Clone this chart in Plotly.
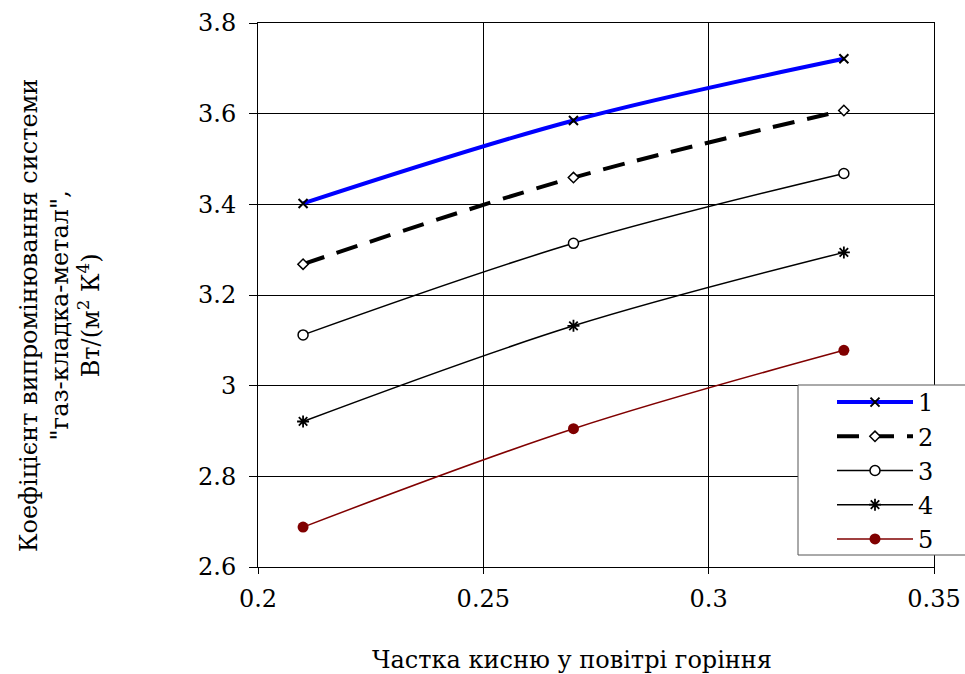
import plotly.graph_objects as go

x_vals = [0.21, 0.27, 0.33]
s1 = [3.402, 3.585, 3.721]
s2 = [3.268, 3.459, 3.607]
s3 = [3.112, 3.314, 3.468]
s4 = [2.921, 3.132, 3.294]
s5 = [2.688, 2.905, 3.078]
names = ["1", "2", "3", "4", "5"]

FONT = "DejaVu Serif"
L, R, T, B = 258, 934, 23, 567
W, H = 965, 674
PW, PH = R - L, B - T

def px(xp):
    return (xp - L) / PW

def py(yp):
    return (B - yp) / PH

fig = go.Figure()

fig.add_trace(go.Scatter(x=x_vals, y=s1, name=names[0], mode="lines+markers",
    line=dict(color="#0000ff", width=4, shape="spline"),
    marker=dict(symbol="x-thin", size=9, color="black", line=dict(width=2, color="black"))))
fig.add_trace(go.Scatter(x=x_vals, y=s2, name=names[1], mode="lines+markers",
    line=dict(color="black", width=4, dash="22px,13px", shape="spline"),
    marker=dict(symbol="diamond", size=8, color="white", line=dict(width=1.5, color="black"))))
fig.add_trace(go.Scatter(x=x_vals, y=s3, name=names[2], mode="lines+markers",
    line=dict(color="black", width=1.5, shape="spline"),
    marker=dict(symbol="circle", size=10, color="white", line=dict(width=1.5, color="black"))))
fig.add_trace(go.Scatter(x=x_vals, y=s4, name=names[3], mode="lines+markers",
    line=dict(color="black", width=1.5, shape="spline"),
    marker=dict(symbol="asterisk", size=10, color="black", line=dict(width=1.8, color="black"))))
fig.add_trace(go.Scatter(x=x_vals, y=s5, name=names[4], mode="lines+markers",
    line=dict(color="#800000", width=1.5, shape="spline"),
    marker=dict(symbol="circle", size=11, color="#800000", line=dict(width=0))))

fig.update_layout(
    width=W, height=H,
    margin=dict(l=L, r=W - R, t=T, b=H - B, autoexpand=False),
    paper_bgcolor="white", plot_bgcolor="white",
    font=dict(family=FONT, size=24, color="black"),
    showlegend=True,
    legend=dict(x=px(832), y=py(380), xanchor="left", yanchor="top",
                bgcolor="rgba(0,0,0,0)", borderwidth=0,
                font=dict(family=FONT, size=24), tracegroupgap=0,
                itemwidth=76),
    shapes=[dict(type="rect", xref="paper", yref="paper",
                 x0=px(798), x1=px(980), y0=py(555), y1=py(385),
                 fillcolor="white", line=dict(color="#555", width=1), layer="above")],
    xaxis=dict(range=[0.2, 0.35], dtick=0.05, tick0=0.2, showgrid=True,
               gridcolor="black", gridwidth=1, showline=True, linecolor="black",
               linewidth=1, mirror=True, ticks="outside", ticklen=6,
               tickcolor="black", zeroline=False, automargin=False,
               ticklabelstandoff=4,
               tickfont=dict(family=FONT, size=24)),
    yaxis=dict(range=[2.6, 3.8], dtick=0.2, tick0=2.6, showgrid=True,
               gridcolor="black", gridwidth=1, showline=True, linecolor="black",
               linewidth=1, mirror=True, ticks="outside", ticklen=8,
               tickcolor="black", zeroline=False, automargin=False,
               ticklabelstandoff=8,
               tickfont=dict(family=FONT, size=24)),
    annotations=[
        dict(text="Частка кисню у повітрі горіння", xref="paper", yref="paper",
             x=px(572), y=py(660), xanchor="center", yanchor="middle",
             showarrow=False, font=dict(family=FONT, size=24)),
        dict(text="Коефіцієнт випромінювання системи<br>\"газ-кладка-метал\",<br>Вт/(м<sup>2</sup> К<sup>4</sup>)",
             xref="paper", yref="paper", x=px(60), y=py(316),
             xanchor="center", yanchor="middle", textangle=-90, showarrow=False,
             font=dict(family=FONT, size=24)),
    ],
)

fig.write_html("out.html")
